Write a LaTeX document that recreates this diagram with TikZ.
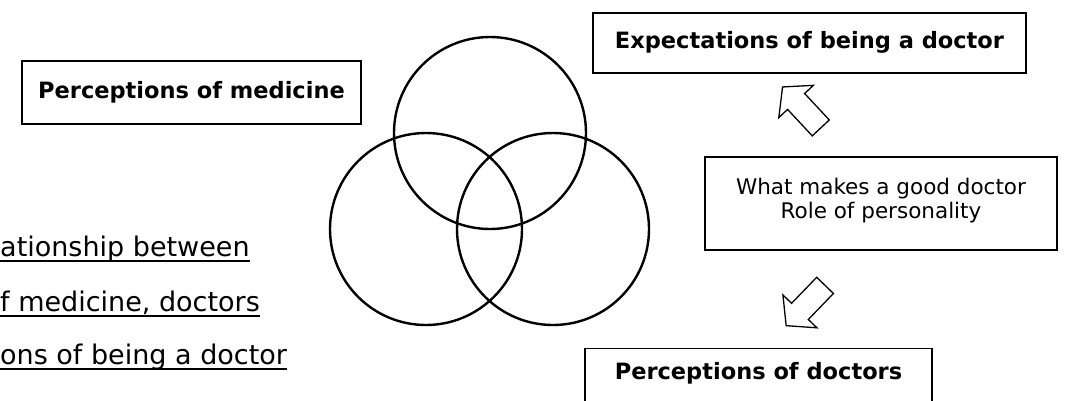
\documentclass[tikz,border=0pt]{standalone}
\usepackage{fontspec}
\setmainfont{DejaVu Sans}
\usetikzlibrary{shapes.arrows}
\begin{document}
\begin{tikzpicture}[x=1pt,y=-1pt,
  frame/.style={draw, line width=1.3pt, inner sep=0pt},
  boldtext/.style={anchor=base, inner sep=0pt, font=\bfseries\fontsize{22.5}{27}\selectfont},
  plaintext/.style={anchor=base, inner sep=0pt, font=\fontsize{21.5}{23}\selectfont},
  vcirc/.style={draw, circle, line width=2.4pt, inner sep=0pt, minimum size=192pt},
  lefttext/.style={anchor=base west, inner sep=0pt, font=\fontsize{27}{30}\selectfont},
  uline/.style={line width=1.3pt},
  blockarrow/.style={draw, single arrow, line width=1.3pt, inner xsep=0pt, inner ysep=11pt,
    minimum height=56pt, single arrow head extend=12pt, single arrow tip angle=100}
]
\useasboundingbox (0,0) rectangle (1071,400);
\clip (0,0) rectangle (1071,400);

% box frames
\node[frame, minimum width=339pt, minimum height=63pt] (medbox) at (191.5,92.5) {};
\node[frame, minimum width=433pt, minimum height=60pt] (expbox) at (809.5,43) {};
\node[frame, minimum width=352pt, minimum height=93pt] (goodbox) at (881,203.5) {};
\node[frame, minimum width=347pt, minimum height=60pt, anchor=north] (docsbox) at (758.5,348) {};

% box texts
\node[boldtext] (med) at (191.5,98) {Perceptions of medicine};
\node[boldtext] (exp) at (809.5,48) {Expectations of being a doctor};
\node[plaintext] (good1) at (881,194) {What makes a good doctor};
\node[plaintext] (good2) at (881,218) {Role of personality};
\node[boldtext] (docs) at (758.5,379) {Perceptions of doctors};

% Venn circles
\node[vcirc] (ctop) at (490,133) {};
\node[vcirc] (cleft) at (426,229) {};
\node[vcirc] (cright) at (553,229) {};

% hollow block arrows
\node[blockarrow, rotate=133] (up) at (805,111) {};
\node[blockarrow, rotate=226] (down) at (809,302) {};

% left underlined text
\node[lefttext] (l1) at (0,256) {ationship between};
\node[lefttext] (l2) at (0,311) {f medicine, doctors};
\node[lefttext] (l3) at (0,364) {ons of being a doctor};
\draw[uline] ([yshift=-5pt]l1.base west) -- ([yshift=-5pt]l1.base east);
\draw[uline] ([yshift=-5pt]l2.base west) -- ([yshift=-5pt]l2.base east);
\draw[uline] ([yshift=-5pt]l3.base west) -- ([yshift=-5pt]l3.base east);
\end{tikzpicture}
\end{document}
